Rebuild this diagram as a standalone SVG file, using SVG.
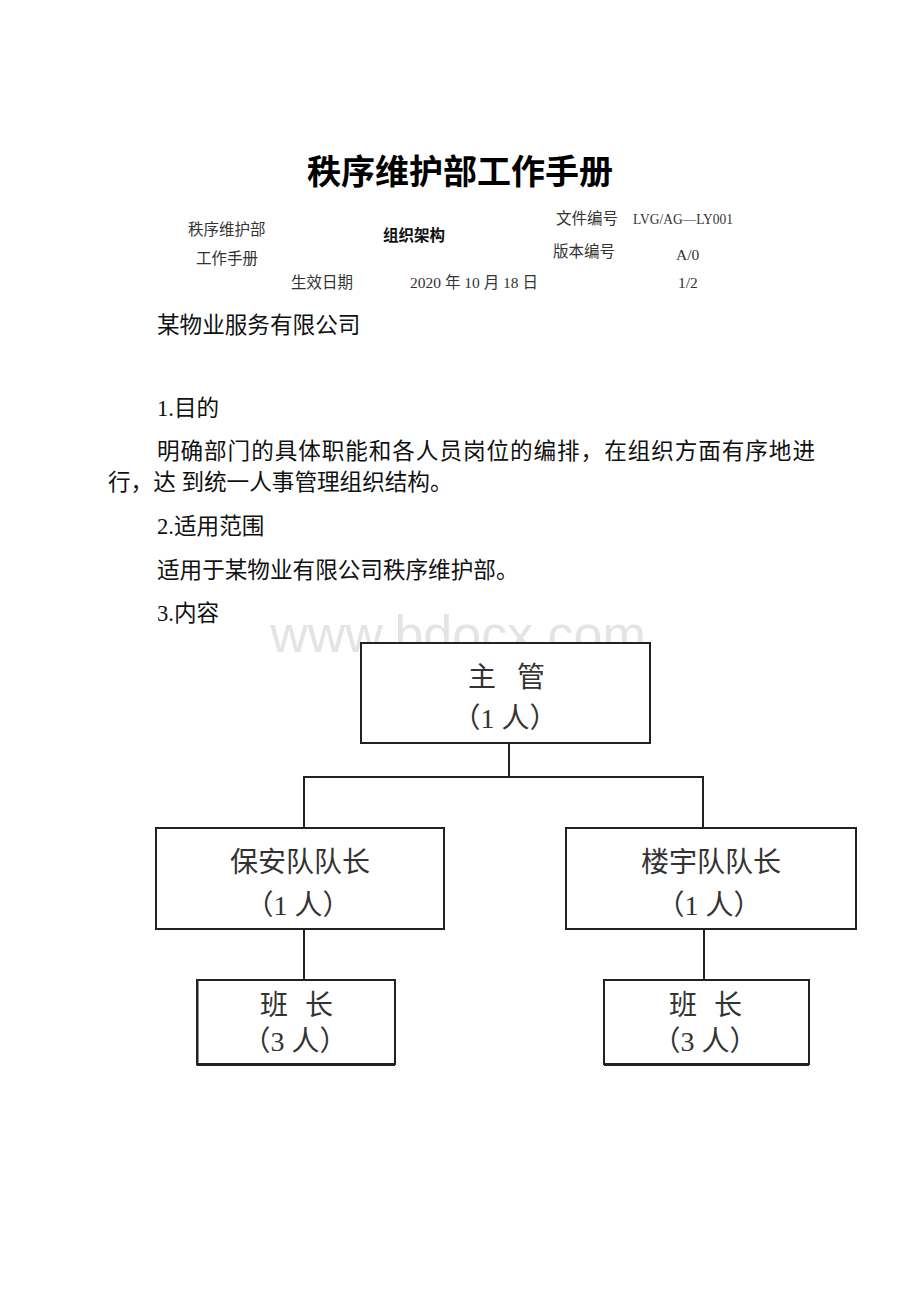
<svg xmlns="http://www.w3.org/2000/svg" width="920" height="1302" viewBox="0 0 920 1302">
<style>
.title{font-family:"Liberation Serif","Noto Sans CJK SC",serif;font-size:34px;font-weight:bold;fill:#000}
.hd{font-family:"Liberation Serif","Noto Sans CJK SC",serif;font-size:15.5px;fill:#333}
.hdb{font-family:"Noto Sans CJK SC",sans-serif;font-size:15.5px;font-weight:bold;fill:#111}
.body{font-family:"Liberation Serif","Noto Sans CJK SC",serif;font-size:22.6px;fill:#111}
.wm{font-family:"Liberation Sans","Noto Sans",sans-serif;font-size:52px;fill:#e4e4e4}
.box{fill:#fff;stroke:#222;stroke-width:2}
.nt{font-family:"Liberation Serif","Noto Sans CJK SC",serif;font-size:28px;fill:#333;text-anchor:middle}
.conn{stroke:#222;stroke-width:2;fill:none}
</style>
<rect width="920" height="1302" fill="#fff"/>
<text class="title" x="460" y="184" text-anchor="middle">秩序维护部工作手册</text>
<g id="header">
<text class="hd" x="188" y="235">秩序维护部</text>
<text class="hd" x="196" y="264">工作手册</text>
<text class="hdb" x="383" y="241">组织架构</text>
<text class="hd" x="556" y="224">文件编号</text>
<text class="hd" x="633" y="224" textLength="100" lengthAdjust="spacingAndGlyphs">LVG/AG—LY001</text>
<text class="hd" x="553" y="257">版本编号</text>
<text class="hd" x="676" y="260">A/0</text>
<text class="hd" x="291" y="288">生效日期</text>
<text class="hd" x="410" y="288">2020 年 10 月 18 日</text>
<text class="hd" x="678" y="288">1/2</text>
</g>
<g id="body">
<text class="body" x="157" y="333">某物业服务有限公司</text>
<text class="body" x="157" y="416">1.目的</text>
<text class="body" x="157" y="459" textLength="658" lengthAdjust="spacing">明确部门的具体职能和各人员岗位的编排，在组织方面有序地进</text>
<text class="body" x="108" y="490">行，达 到统一人事管理组织结构。</text>
<text class="body" x="157" y="534">2.适用范围</text>
<text class="body" x="157" y="578">适用于某物业有限公司秩序维护部。</text>
<text class="body" x="157" y="621">3.内容</text>
</g>
<text class="wm" x="458" y="652" text-anchor="middle">www.bdocx.com</text>
<g id="connectors">
<line class="conn" x1="509" y1="743" x2="509" y2="777"/>
<line class="conn" x1="303" y1="777" x2="704" y2="777"/>
<line class="conn" x1="304" y1="777" x2="304" y2="828"/>
<line class="conn" x1="703" y1="777" x2="703" y2="828"/>
<line class="conn" x1="304" y1="929" x2="304" y2="980"/>
<line class="conn" x1="704" y1="929" x2="704" y2="980"/>
</g>
<g id="n-zhuguan">
<rect class="box" x="361" y="643" width="289" height="100"/>
<text class="nt" x="482" y="687">主</text>
<text class="nt" x="531" y="687">管</text>
<text class="nt" x="505" y="728">（1 人）</text>
</g>
<g id="n-baoan">
<rect class="box" x="156" y="828" width="288" height="101"/>
<text class="nt" x="300" y="872" font-size="29">保安队队长</text>
<text class="nt" x="298" y="915">（1 人）</text>
</g>
<g id="n-louyu">
<rect class="box" x="566" y="828" width="290" height="101"/>
<text class="nt" x="711" y="872" font-size="29">楼宇队队长</text>
<text class="nt" x="709" y="915">（1 人）</text>
</g>
<g id="n-banzhang1">
<rect class="box" x="197" y="980" width="198" height="84"/>
<path class="conn" d="M197.5 980 V1065 H395" stroke-width="3"/>
<text class="nt" x="274" y="1015">班</text>
<text class="nt" x="319" y="1015">长</text>
<text class="nt" x="295" y="1051">（3 人）</text>
</g>
<g id="n-banzhang2">
<rect class="box" x="604" y="980" width="205" height="84"/>
<path class="conn" d="M604 1065 H809" stroke-width="3"/>
<text class="nt" x="683" y="1015">班</text>
<text class="nt" x="728" y="1015">长</text>
<text class="nt" x="705" y="1051">（3 人）</text>
</g>
</svg>
